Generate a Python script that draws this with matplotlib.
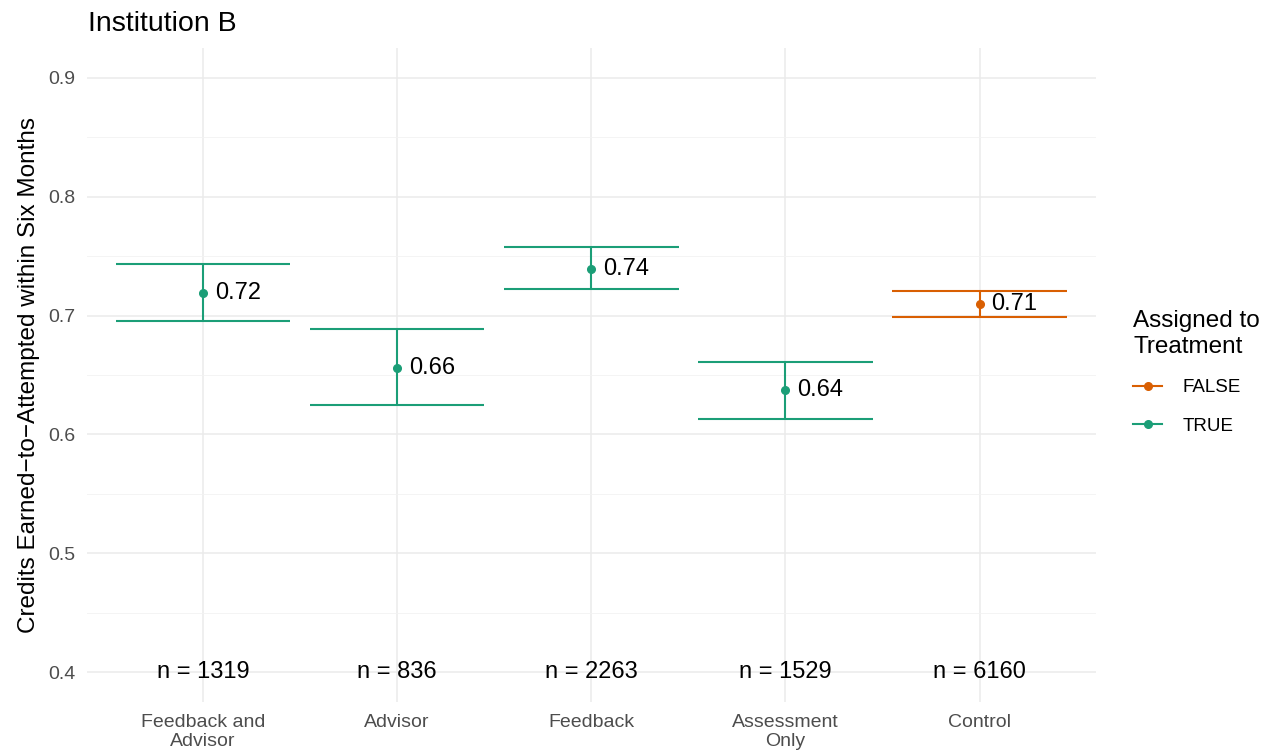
import matplotlib
matplotlib.use("Agg")
import matplotlib.pyplot as plt
from matplotlib.lines import Line2D
import numpy as np

plt.rcParams['font.family'] = ['Liberation Sans', 'DejaVu Sans']

# values
categories = ["Feedback and\nAdvisor", "Advisor", "Feedback", "Assessment\nOnly", "Control"]
means = [0.719, 0.656, 0.739, 0.637, 0.710]
lower = [0.695, 0.625, 0.722, 0.613, 0.699]
upper = [0.743, 0.689, 0.758, 0.661, 0.721]
n_obs = [1319, 836, 2263, 1529, 6160]
treated = [True, True, True, True, False]

colors = {True: "#1B9E77", False: "#D95F02"}

fig = plt.figure(figsize=(12.72, 7.53), dpi=100)
ax = fig.add_axes([86.5 / 1272, 1 - 702 / 753, (1096 - 86.5) / 1272, (702 - 48) / 753])

x = np.arange(len(categories))
for xi, m, lo, hi, tr, n in zip(x, means, lower, upper, treated, n_obs):
    c = colors[tr]
    ax.plot([xi, xi], [lo, hi], color=c, lw=1.5, solid_capstyle='butt', zorder=3)
    ax.hlines([lo, hi], xi - 0.45, xi + 0.45, color=c, lw=1.5, zorder=3)
    ax.plot(xi, m, 'o', color=c, markersize=5.5, zorder=4)
    ax.text(xi + 0.06, m, f"{m:.2f}", fontsize=17, va='center', ha='left', color='black', zorder=5)
    ax.text(xi, 0.4, f"n = {n}", fontsize=17, va='center', ha='center', color='black', zorder=5)

ax.set_xlim(-0.6, len(categories) - 0.4)
ax.set_ylim(0.375, 0.925)
ax.set_xticks(x)
ax.set_xticklabels(categories, linespacing=1.15)
ax.set_yticks([0.4, 0.5, 0.6, 0.7, 0.8, 0.9])
ax.set_yticks([0.45, 0.55, 0.65, 0.75, 0.85], minor=True)
ax.tick_params(axis='both', which='both', length=0, labelsize=14, labelcolor='#4D4D4D')
ax.tick_params(axis='y', pad=8)
ax.tick_params(axis='x', pad=8.5)

ax.grid(True, which='major', color='#EBEBEB', lw=1.1, zorder=0)
ax.grid(True, which='minor', axis='y', color='#F2F2F2', lw=0.6, zorder=0)
ax.set_axisbelow(True)
for s in ax.spines.values():
    s.set_visible(False)

ax.set_ylabel("Credits Earned\u2212to\u2212Attempted within Six Months", fontsize=17.5, labelpad=6)
ax.set_title("Institution B", loc='left', fontsize=20.5, pad=12, x=0.0015)

handles = [Line2D([], [], color=colors[False], marker='o', markersize=5.5, lw=1.5),
           Line2D([], [], color=colors[True], marker='o', markersize=5.5, lw=1.5)]
leg = ax.legend(handles, ["FALSE", "TRUE"], title="Assigned to\nTreatment",
                loc='upper left', bbox_to_anchor=(1.02, 0.625), frameon=False,
                fontsize=13.5, title_fontsize=17.5, alignment='left',
                handlelength=1.55, handletextpad=1.1, labelspacing=1.15)

fig.savefig("out.png", dpi=100, facecolor='white')
